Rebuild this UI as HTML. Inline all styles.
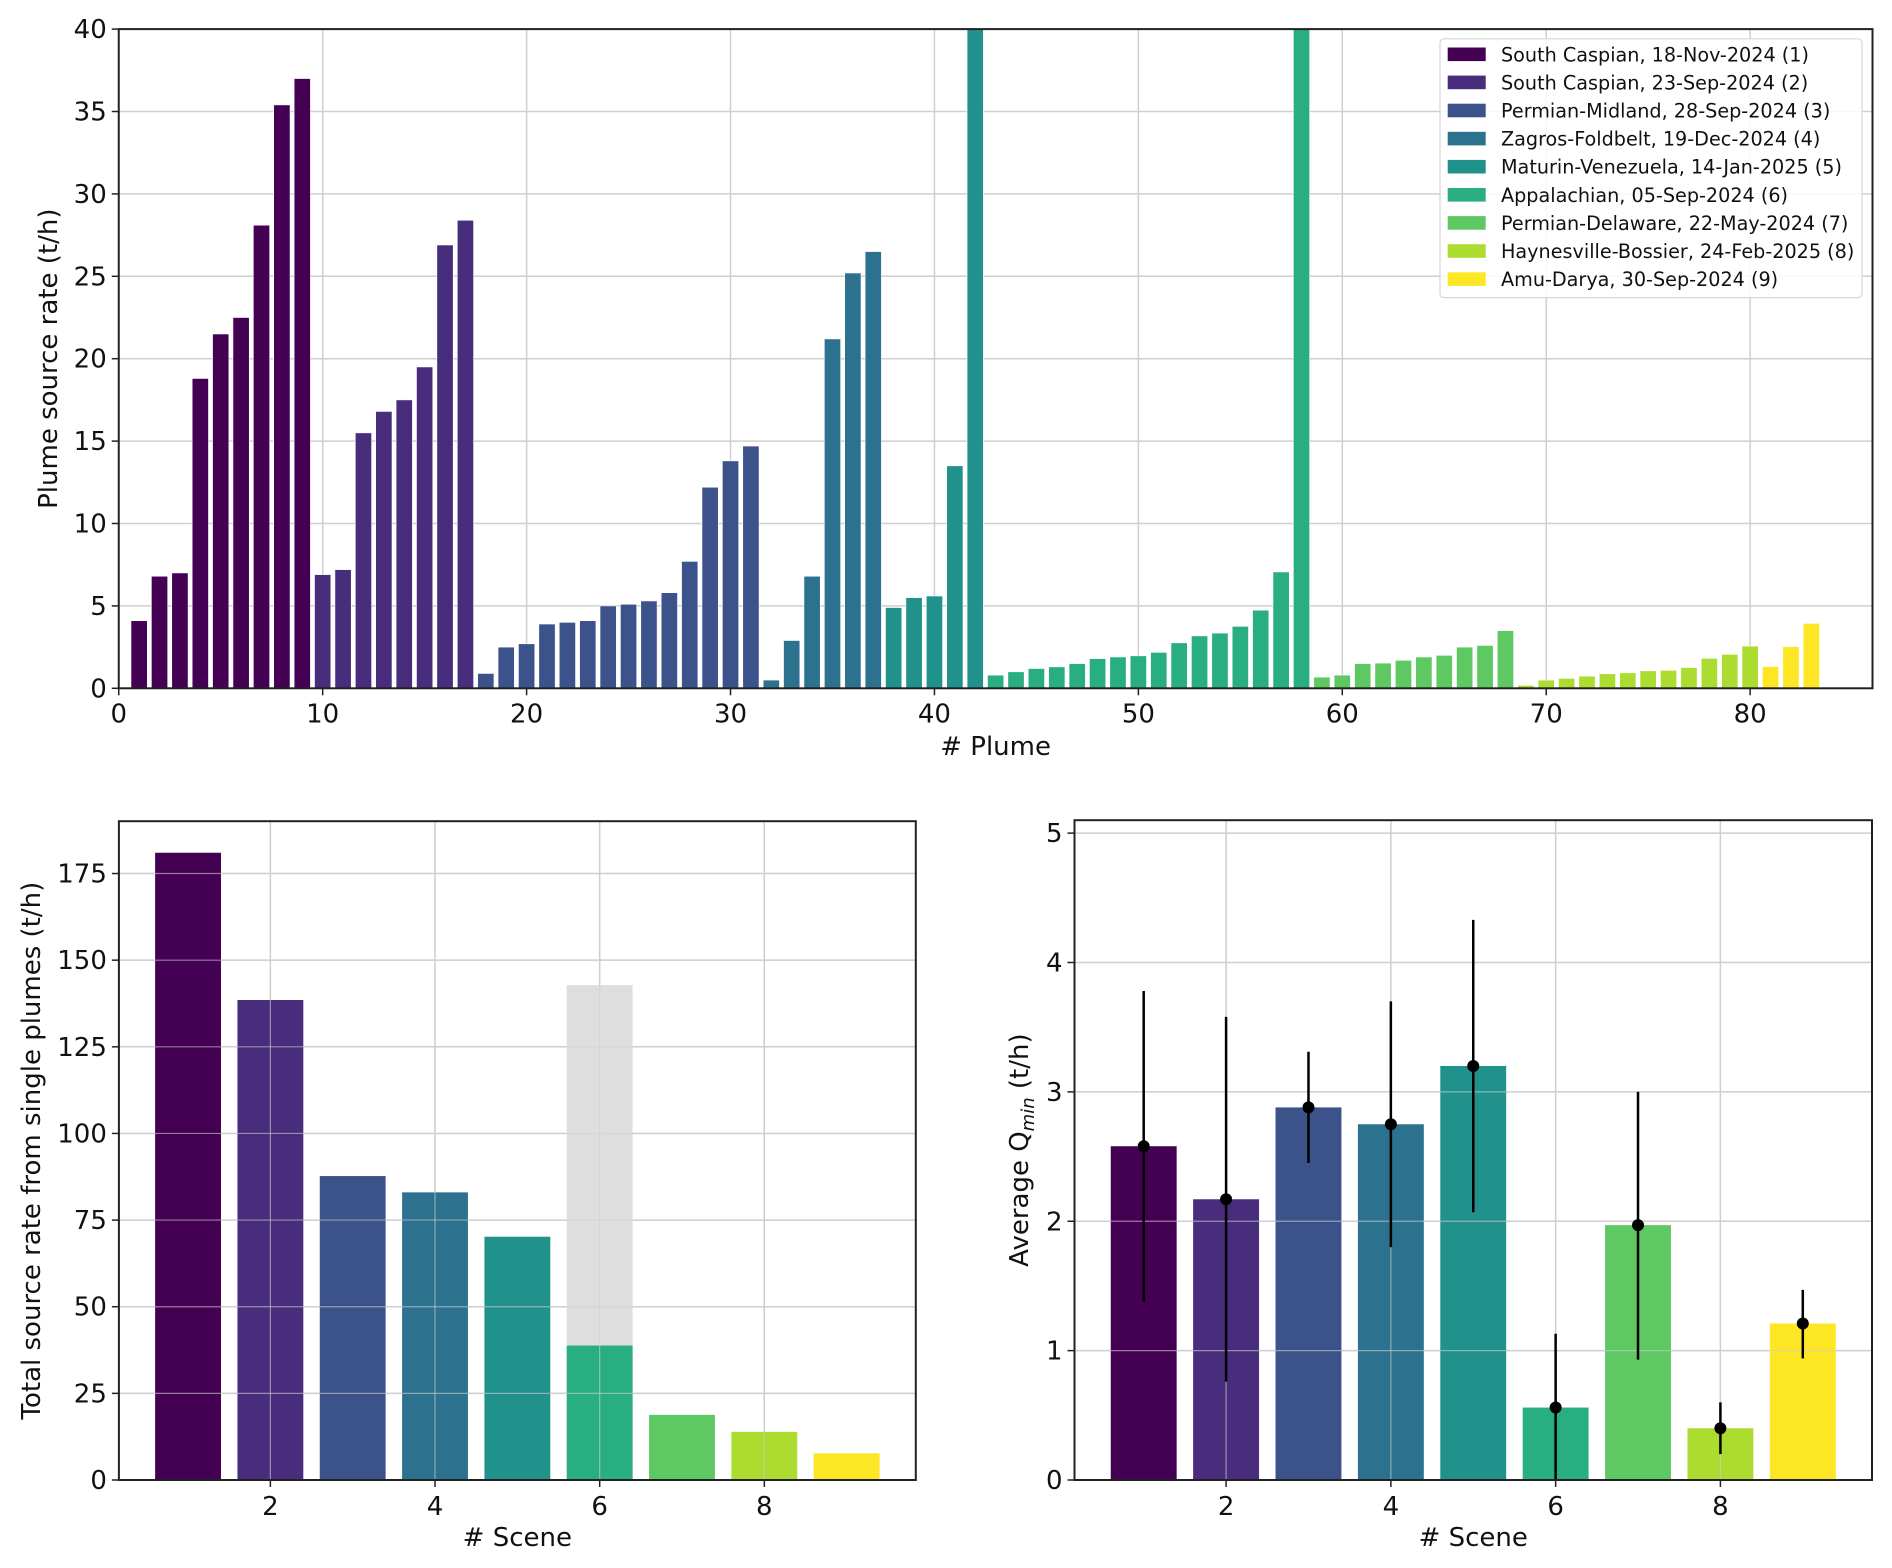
<!DOCTYPE html>
<html><head><meta charset="utf-8"><style>
html,body{margin:0;padding:0;background:#fff;}
svg{display:block;font-family:"DejaVu Sans","Liberation Sans",sans-serif;}
</style></head><body>
<svg id="fig" width="1892" height="1568" viewBox="0 0 1892 1568" xmlns="http://www.w3.org/2000/svg"></svg>
<script>
const sceneColors = ["#440154","#472d7b","#3b528b","#2c728e","#21918c","#28ae80","#5ec962","#addc30","#fde725"];
const sceneNames = ["South Caspian, 18-Nov-2024 (1)","South Caspian, 23-Sep-2024 (2)","Permian-Midland, 28-Sep-2024 (3)","Zagros-Foldbelt, 19-Dec-2024 (4)","Maturin-Venezuela, 14-Jan-2025 (5)","Appalachian, 05-Sep-2024 (6)","Permian-Delaware, 22-May-2024 (7)","Haynesville-Bossier, 24-Feb-2025 (8)","Amu-Darya, 30-Sep-2024 (9)"];
const plumeRates = [4.1,6.8,7.0,18.8,21.5,22.5,28.1,35.4,37.0,
 6.9,7.2,15.5,16.8,17.5,19.5,26.9,28.4,
 0.9,2.5,2.7,3.9,4.0,4.1,5.0,5.1,5.3,5.8,7.7,12.2,13.8,14.7,
 0.5,2.9,6.8,21.2,25.2,26.5,
 4.9,5.5,5.6,13.5,40.5,
 0.8,1.0,1.2,1.3,1.5,1.8,1.9,1.97,2.18,2.76,3.18,3.35,3.76,4.74,7.06,104,
 0.68,0.8,1.5,1.53,1.7,1.9,2.0,2.5,2.6,3.5,
 0.18,0.5,0.6,0.74,0.88,0.94,1.06,1.09,1.26,1.82,2.06,2.56,
 1.32,2.53,3.94];
const plumeScene = [1,1,1,1,1,1,1,1,1, 2,2,2,2,2,2,2,2, 3,3,3,3,3,3,3,3,3,3,3,3,3,3, 4,4,4,4,4,4, 5,5,5,5,5, 6,6,6,6,6,6,6,6,6,6,6,6,6,6,6,6, 7,7,7,7,7,7,7,7,7,7, 8,8,8,8,8,8,8,8,8,8,8,8, 9,9,9];
const topXTicks = [0,10,20,30,40,50,60,70,80];
const topYTicks = [0,5,10,15,20,25,30,35,40];
const scenes = [1,2,3,4,5,6,7,8,9];
const totalRate = [181,138.5,87.7,83,70.2,38.8,18.8,13.9,7.7];
const totalRateAll = [181,138.5,87.7,83,70.2,142.8,18.8,13.9,7.7];
const leftYTicks = [0,25,50,75,100,125,150,175];
const qmin = [2.58,2.17,2.88,2.75,3.2,0.56,1.97,0.4,1.21];
const qminHi = [3.78,3.58,3.31,3.70,4.33,1.13,3.0,0.6,1.47];
const qminLo = [1.38,0.76,2.45,1.80,2.07,0.0,0.93,0.2,0.94];
const rightYTicks = [0,1,2,3,4,5];
const sceneTicks = [2,4,6,8];

const NS="http://www.w3.org/2000/svg";
const svg=document.getElementById('fig');
function mk(tag,attrs,parent){const e=document.createElementNS(NS,tag);for(const k in attrs)e.setAttribute(k,attrs[k]);(parent||svg).appendChild(e);return e;}
function txt(s,attrs,parent){const e=mk('text',attrs,parent);e.textContent=s;return e;}

// ---------- top panel ----------
const T={l:118.75,r:1872.5,t:29.1,b:688.3,x0:0,x1:86,y0:0,y1:40};
const tx=v=>T.l+(v-T.x0)/(T.x1-T.x0)*(T.r-T.l);
const ty=v=>T.b-(v-T.y0)/(T.y1-T.y0)*(T.b-T.t);
const gTop=mk('g',{});


mk('defs',{}).innerHTML='<clipPath id="clipTop"><rect x="'+T.l+'" y="'+T.t+'" width="'+(T.r-T.l)+'" height="'+(T.b-T.t)+'"/></clipPath>';
topXTicks.forEach(v=>{const l=mk('line',{x1:tx(v),x2:tx(v),y1:T.t,y2:T.b,stroke:'#cfcfcf','stroke-width':1.5},gTop);});
topYTicks.forEach(v=>{const l=mk('line',{x1:T.l,x2:T.r,y1:ty(v),y2:ty(v),stroke:'#cfcfcf','stroke-width':1.5},gTop);});
const barsTop=mk('g',{'clip-path':'url(#clipTop)'},gTop);
plumeRates.forEach((v,i)=>{const x=i+1;const r=mk('rect',{x:tx(x-0.4),width:tx(x+0.4)-tx(x-0.4),y:ty(Math.min(v,45)),height:ty(0)-ty(Math.min(v,45)),fill:sceneColors[plumeScene[i]-1],stroke:'#fff','stroke-width':0.6},barsTop);

});
mk('rect',{x:T.l,y:T.t,width:T.r-T.l,height:T.b-T.t,fill:'none',stroke:'#222','stroke-width':2},gTop);
topXTicks.forEach(v=>{mk('line',{x1:tx(v),x2:tx(v),y1:T.b,y2:T.b+7,stroke:'#222','stroke-width':1.5},gTop);const t=txt(String(v),{x:tx(v),y:T.b+34,'font-size':26,'text-anchor':'middle',fill:'#111'},gTop);});
topYTicks.forEach(v=>{mk('line',{x1:T.l-7,x2:T.l,y1:ty(v),y2:ty(v),stroke:'#222','stroke-width':1.5},gTop);const t=txt(String(v),{x:T.l-12,y:ty(v)+9,'font-size':26,'text-anchor':'end',fill:'#111'},gTop);});
const xl=txt('# Plume',{x:(T.l+T.r)/2,y:755,'font-size':26,'text-anchor':'middle',fill:'#111'},gTop);


const yl=txt('Plume source rate (t/h)',{x:0,y:0,'font-size':26,'text-anchor':'middle',fill:'#111',transform:'translate(57,'+((T.t+T.b)/2)+') rotate(-90)'},gTop);


// legend
const lg=mk('g',{},gTop);


mk('rect',{x:1440,y:38.8,width:422,height:258.8,rx:4,fill:'#fff','fill-opacity':0.85,stroke:'#d6d6d6','stroke-width':1.2},lg);
sceneNames.forEach((n,i)=>{const cy=54.3+i*28.1;
const e=mk('g',{},lg);


mk('rect',{x:1447.7,y:cy-6.8,width:38,height:13.6,fill:sceneColors[i]},e);
txt(n,{x:1501,y:cy+7,'font-size':19.2,fill:'#111'},e);});

// ---------- bottom-left ----------
function panel(P,name){const g=mk('g',{});return g;}
const L={l:118.9,r:915.8,t:821.2,b:1480,x0:0.16,x1:9.84,y0:0,y1:190.1};
const lx=v=>L.l+(v-L.x0)/(L.x1-L.x0)*(L.r-L.l);
const ly=v=>L.b-(v-L.y0)/(L.y1-L.y0)*(L.b-L.t);
const gL=panel(L,'total-rate-chart');
sceneTicks.forEach(v=>mk('line',{x1:lx(v),x2:lx(v),y1:L.t,y2:L.b,stroke:'#cfcfcf','stroke-width':1.5},gL));
leftYTicks.forEach(v=>mk('line',{x1:L.l,x2:L.r,y1:ly(v),y2:ly(v),stroke:'#cfcfcf','stroke-width':1.5},gL));
scenes.forEach((s,i)=>{
 if(totalRateAll[i]>totalRate[i]){const g=mk('rect',{x:lx(s-0.4),width:lx(s+0.4)-lx(s-0.4),y:ly(totalRateAll[i]),height:ly(0)-ly(totalRateAll[i]),fill:'#dedede'},gL);
 
 }
 const r=mk('rect',{x:lx(s-0.4),width:lx(s+0.4)-lx(s-0.4),y:ly(totalRate[i]),height:ly(0)-ly(totalRate[i]),fill:sceneColors[i]},gL);
 
 
});
sceneTicks.forEach(v=>mk('line',{x1:lx(v),x2:lx(v),y1:L.t,y2:L.b,stroke:'#cfcfcf','stroke-width':1.2,'stroke-opacity':0.6},gL));
leftYTicks.forEach(v=>mk('line',{x1:L.l,x2:L.r,y1:ly(v),y2:ly(v),stroke:'#cfcfcf','stroke-width':1.2,'stroke-opacity':0.6},gL));
mk('rect',{x:L.l,y:L.t,width:L.r-L.l,height:L.b-L.t,fill:'none',stroke:'#222','stroke-width':2},gL);
sceneTicks.forEach(v=>{mk('line',{x1:lx(v),x2:lx(v),y1:L.b,y2:L.b+7,stroke:'#222','stroke-width':1.5},gL);txt(String(v),{x:lx(v),y:L.b+35,'font-size':26,'text-anchor':'middle',fill:'#111'},gL);});
leftYTicks.forEach(v=>{mk('line',{x1:L.l-7,x2:L.l,y1:ly(v),y2:ly(v),stroke:'#222','stroke-width':1.5},gL);txt(String(v),{x:L.l-12,y:ly(v)+9,'font-size':26,'text-anchor':'end',fill:'#111'},gL);});
const xl2=txt('# Scene',{x:(L.l+L.r)/2,y:1546,'font-size':26,'text-anchor':'middle',fill:'#111'},gL);


const yl2=txt('Total source rate from single plumes (t/h)',{x:0,y:0,'font-size':26,'text-anchor':'middle',fill:'#111',transform:'translate(40,'+((L.t+L.b)/2)+') rotate(-90)'},gL);



// ---------- bottom-right ----------
const R={l:1074.5,r:1872,t:820.2,b:1480,x0:0.16,x1:9.84,y0:0,y1:5.1};
const rx=v=>R.l+(v-R.x0)/(R.x1-R.x0)*(R.r-R.l);
const ry=v=>R.b-(v-R.y0)/(R.y1-R.y0)*(R.b-R.t);
const gR=panel(R,'qmin-chart');
sceneTicks.forEach(v=>mk('line',{x1:rx(v),x2:rx(v),y1:R.t,y2:R.b,stroke:'#cfcfcf','stroke-width':1.5},gR));
rightYTicks.forEach(v=>mk('line',{x1:R.l,x2:R.r,y1:ry(v),y2:ry(v),stroke:'#cfcfcf','stroke-width':1.5},gR));
scenes.forEach((s,i)=>{
 const r=mk('rect',{x:rx(s-0.4),width:rx(s+0.4)-rx(s-0.4),y:ry(qmin[i]),height:ry(0)-ry(qmin[i]),fill:sceneColors[i]},gR);
 
 
});
sceneTicks.forEach(v=>mk('line',{x1:rx(v),x2:rx(v),y1:R.t,y2:R.b,stroke:'#cfcfcf','stroke-width':1.2,'stroke-opacity':0.6},gR));
rightYTicks.forEach(v=>mk('line',{x1:R.l,x2:R.r,y1:ry(v),y2:ry(v),stroke:'#cfcfcf','stroke-width':1.2,'stroke-opacity':0.6},gR));
scenes.forEach((s,i)=>{
 const e=mk('line',{x1:rx(s),x2:rx(s),y1:ry(qminHi[i]),y2:ry(qminLo[i]),stroke:'#000','stroke-width':2.5},gR);
 
 
 const c=mk('circle',{cx:rx(s),cy:ry(qmin[i]),r:6,fill:'#000'},gR);
 
 
});
mk('rect',{x:R.l,y:R.t,width:R.r-R.l,height:R.b-R.t,fill:'none',stroke:'#222','stroke-width':2},gR);
sceneTicks.forEach(v=>{mk('line',{x1:rx(v),x2:rx(v),y1:R.b,y2:R.b+7,stroke:'#222','stroke-width':1.5},gR);txt(String(v),{x:rx(v),y:R.b+35,'font-size':26,'text-anchor':'middle',fill:'#111'},gR);});
rightYTicks.forEach(v=>{mk('line',{x1:R.l-7,x2:R.l,y1:ry(v),y2:ry(v),stroke:'#222','stroke-width':1.5},gR);txt(String(v),{x:R.l-12,y:ry(v)+9,'font-size':26,'text-anchor':'end',fill:'#111'},gR);});
const xl3=txt('# Scene',{x:(R.l+R.r)/2,y:1546,'font-size':26,'text-anchor':'middle',fill:'#111'},gR);


const yl3=mk('text',{x:0,y:0,'font-size':26,'text-anchor':'middle',fill:'#111',transform:'translate(1028,'+((R.t+R.b)/2)+') rotate(-90)'},gR);


yl3.innerHTML='Average Q<tspan font-size="18" font-style="italic" dy="6">min</tspan><tspan dy="-6"> (t/h)</tspan>';
</script>
</body></html>
